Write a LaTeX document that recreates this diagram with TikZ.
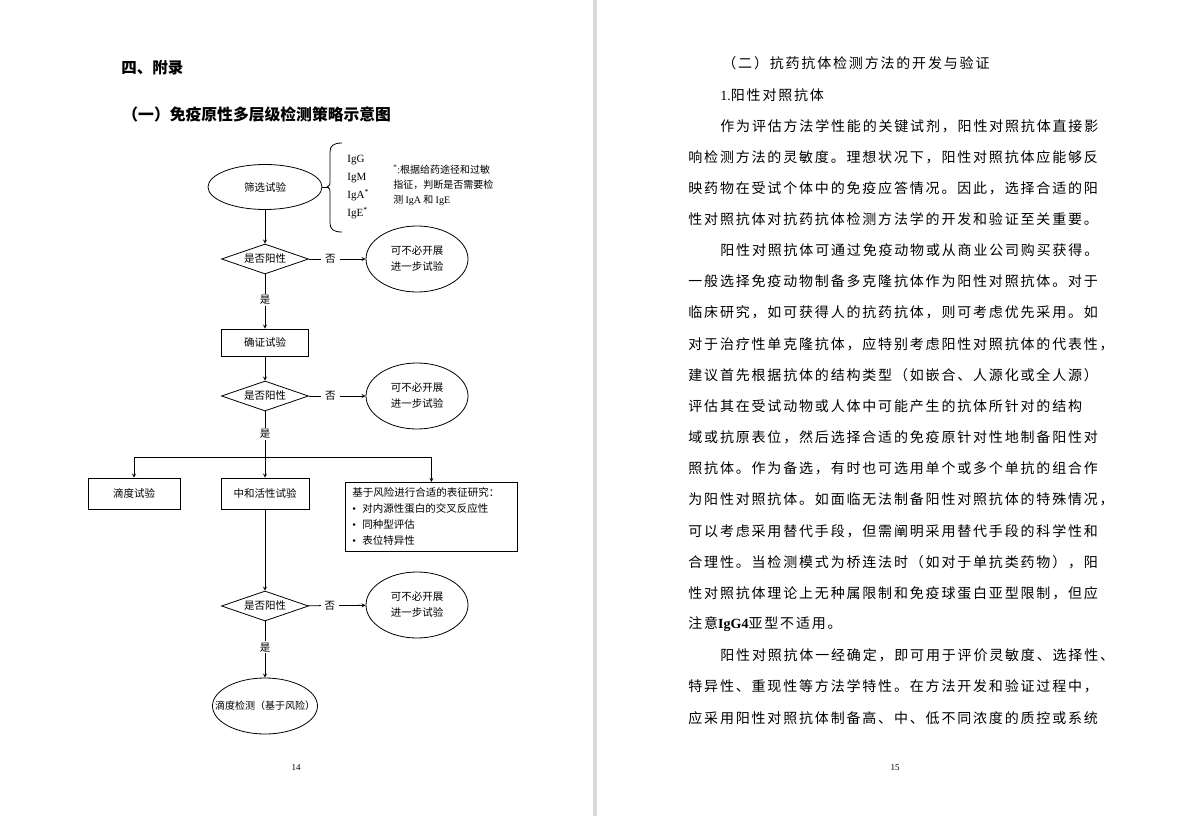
\documentclass[tikz,border=0pt]{standalone}
\usepackage{fontspec}
\setmainfont{Noto Sans CJK SC}
\newfontfamily\tnr{Liberation Serif}
\newfontfamily\cjkbody{Noto Sans CJK SC}[LetterSpace=13]
\usetikzlibrary{shapes.geometric}
\usetikzlibrary{arrows}
\tikzset{
  % style for the page headings
  head/.style={anchor=west,inner sep=0pt,font=\bfseries\fontsize{15.5}{15}\selectfont},
  % style for one line of the running text
  bodyline/.style={anchor=west,inner sep=0pt,font=\cjkbody\fontsize{14}{14}\selectfont},
  % style for the flow chart text
  chart/.style={inner sep=0pt,align=center,font=\fontsize{10.5}{16}\selectfont},
  oval/.style={chart,draw,ellipse},
  stopoval/.style={oval,minimum width=102pt,minimum height=66pt},
  test/.style={chart,draw,diamond,shape aspect=2.9,minimum width=87pt,minimum height=30pt},
  box/.style={chart,draw,rectangle},
  % style for the yes/no marks that cut the connectors
  lbl/.style={fill=white,inner xsep=4pt,inner ysep=1.5pt,font=\fontsize{10.5}{12}\selectfont},
  pageno/.style={inner sep=0pt,font=\tnr\fontsize{9}{9}\selectfont},
}

\begin{document}
\begin{tikzpicture}[x=1pt,y=-1pt,line width=0.8pt]
\useasboundingbox (0,0) rectangle (1189,816);
\fill[gray!30] (593,0) rectangle (597,816);
% left page
\node[head] (h1) at (121,68) {四、附录};
\node[head,font=\bfseries\fontsize{15.8}{16}\selectfont] (h2) at (122,114) {（一）免疫原性多层级检测策略示意图};
\begin{scope}
  \node[oval,minimum width=114pt,minimum height=45pt] (scr) at (265,187) {筛选试验};
  \coordinate (tip) at (329,187);
  \draw (scr) -- (tip);
  \draw (342,143) .. controls (333,143) and (330,146) .. (330,152) -- (330,182)
    .. controls (330,185) .. (327,187) .. controls (330,189) .. (330,192) -- (330,223)
    .. controls (330,229) and (333,232) .. (342,232);
  \node[anchor=west,inner sep=0pt,align=left,font=\tnr\fontsize{11}{18}\selectfont] (ig) at (347,187)
    {IgG\\IgM\\IgA\textsuperscript{*}\\IgE\textsuperscript{*}};
  \node[anchor=west,inner sep=0pt,align=left,font=\fontsize{10}{15}\selectfont] (note) at (393,185)
    {{\tnr\textsuperscript{*}:}根据给药途径和过敏\\指征，判断是否需要检\\测 {\tnr IgA} 和 {\tnr IgE}};
\end{scope}
\begin{scope}
  \node[test] (d1) at (265,259) {是否阳性};
  \node[stopoval] (no1) at (417,259) {可不必开展\\进一步试验};
  \node[box,minimum width=87pt,minimum height=27pt] (conf) at (265,342.5) {确证试验};
  \node[test] (d2) at (265,396) {是否阳性};
  \node[stopoval] (no2) at (417,396) {可不必开展\\进一步试验};
  \coordinate (split) at (265,457);
  \node[box,minimum width=92pt,minimum height=31pt] (tit) at (134,493.5) {滴度试验};
  \node[box,minimum width=88pt,minimum height=31pt] (nab) at (265,493.5) {中和活性试验};
  \node[box,anchor=north west,align=left,text width=158pt,inner xsep=7pt,minimum height=69pt] (char) at (345,482)
    {基于风险进行合适的表征研究：\\\makebox[10pt][l]{\tnr •}对内源性蛋白的交叉反应性\\\makebox[10pt][l]{\tnr •}同种型评估\\\makebox[10pt][l]{\tnr •}表位特异性};
  \node[test] (d3) at (265,606) {是否阳性};
  \node[stopoval] (no3) at (417,605) {可不必开展\\进一步试验};
  \node[oval,minimum width=105pt,minimum height=56pt,inner xsep=-16pt,font=\fontsize{10}{12}\selectfont] (titre) at (265,706) {滴度检测（基于风险）};
\end{scope}
\begin{scope}[-stealth]
  \draw (scr) -- (d1);
  \draw (d1) -- node[lbl,pos=.38]{否} (no1);
  \draw (d1) -- node[lbl,pos=.47]{是} (conf);
  \draw (conf) -- (d2);
  \draw (d2) -- node[lbl,pos=.38]{否} (no2);
  \draw[-] (d2) -- node[lbl]{是} (split);
  \draw (split) -| (tit);
  \draw (split) -- (nab);
  \draw (split) -| (char);
  \draw (nab) -- (d3);
  \draw (d3) -- node[lbl,pos=.38]{否} (no3);
  \draw (d3) -- node[lbl,pos=.46]{是} (titre);
\end{scope}
\node[pageno] (p14) at (296,768) {14};
% right page
\foreach \x/\t [count=\i from 0] in {
  722/{（二）抗药抗体检测方法的开发与验证},
  720/{{\tnr 1.}阳性对照抗体},
  720/{作为评估方法学性能的关键试剂，阳性对照抗体直接影},
  688/{响检测方法的灵敏度。理想状况下，阳性对照抗体应能够反},
  688/{映药物在受试个体中的免疫应答情况。因此，选择合适的阳},
  688/{性对照抗体对抗药抗体检测方法学的开发和验证至关重要。},
  720/{阳性对照抗体可通过免疫动物或从商业公司购买获得。},
  688/{一般选择免疫动物制备多克隆抗体作为阳性对照抗体。对于},
  688/{临床研究，如可获得人的抗药抗体，则可考虑优先采用。如},
  688/{对于治疗性单克隆抗体，应特别考虑阳性对照抗体的代表性，},
  688/{建议首先根据抗体的结构类型（如嵌合、人源化或全人源）},
  688/{评估其在受试动物或人体中可能产生的抗体所针对的结构},
  688/{域或抗原表位，然后选择合适的免疫原针对性地制备阳性对},
  688/{照抗体。作为备选，有时也可选用单个或多个单抗的组合作},
  688/{为阳性对照抗体。如面临无法制备阳性对照抗体的特殊情况，},
  688/{可以考虑采用替代手段，但需阐明采用替代手段的科学性和},
  688/{合理性。当检测模式为桥连法时（如对于单抗类药物），阳},
  688/{性对照抗体理论上无种属限制和免疫球蛋白亚型限制，但应},
  688/{注意{\tnr\bfseries IgG4}亚型不适用。},
  720/{阳性对照抗体一经确定，即可用于评价灵敏度、选择性、},
  688/{特异性、重现性等方法学特性。在方法开发和验证过程中，},
  688/{应采用阳性对照抗体制备高、中、低不同浓度的质控或系统}}
  \node[bodyline] (line\i) at (\x,{63.6+31.15*\i}) {\t};
\node[pageno] (p15) at (895,768) {15};
\end{tikzpicture}
\end{document}
